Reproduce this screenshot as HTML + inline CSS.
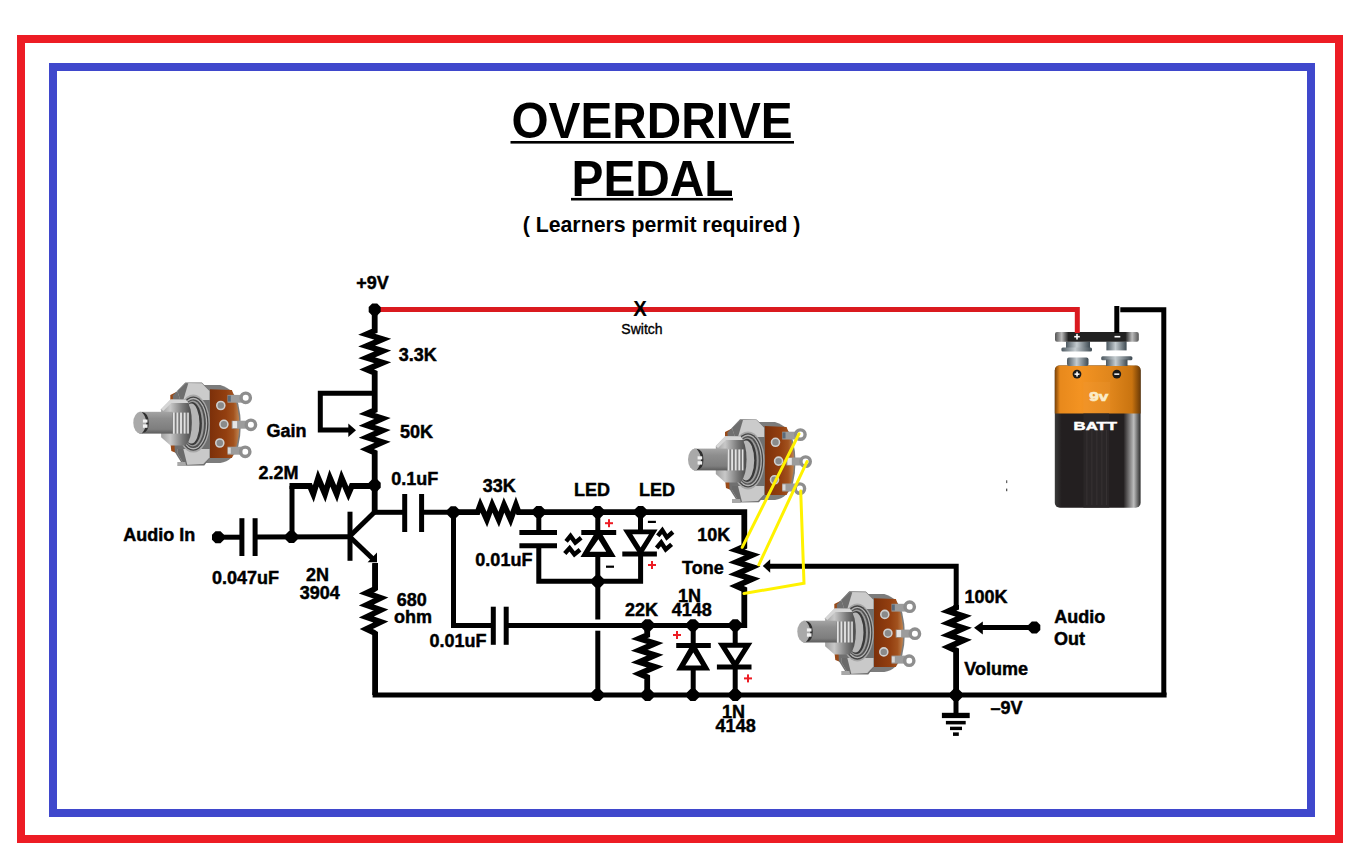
<!DOCTYPE html>
<html><head><meta charset="utf-8"><style>
html,body{margin:0;padding:0;background:#fff;overflow:hidden}
svg{display:block}
text{font-family:"Liberation Sans",sans-serif}
</style></head><body>
<svg width="1371" height="866" viewBox="0 0 1371 866">
<rect width="1371" height="866" fill="#fff"/>
<rect x="21" y="39" width="1318" height="800" fill="none" stroke="#ED1C24" stroke-width="8"/>
<rect x="53" y="67" width="1258" height="746" fill="none" stroke="#3F48CC" stroke-width="8"/>
<text transform="scale(0.958,1)" x="533.84" y="137.9" font-size="49.85" font-weight="bold">OVERDRIVE</text>
<rect x="510.5" y="141" width="283.5" height="2.6" fill="#000"/>
<text transform="scale(0.958,1)" x="596.56" y="195.95" font-size="49.93" font-weight="bold">PEDAL</text>
<rect x="571" y="197.9" width="162" height="2.6" fill="#000"/>
<text x="522.74" y="231.9" font-size="21.27" font-weight="bold">( Learners permit required )</text>
<defs>
<linearGradient id="potShaft" x1="0" y1="0" x2="0" y2="1">
 <stop offset="0" stop-color="#a4a4a4"/><stop offset="0.3" stop-color="#8e8e8e"/><stop offset="0.8" stop-color="#7e7e7e"/><stop offset="1" stop-color="#5c5c5c"/>
</linearGradient>
<linearGradient id="potWafer" x1="0" y1="0" x2="1" y2="0">
 <stop offset="0" stop-color="#7c300a"/><stop offset="0.55" stop-color="#933f10"/><stop offset="0.8" stop-color="#a2521e"/><stop offset="1" stop-color="#c08552"/>
</linearGradient>
<linearGradient id="potHex" x1="0" y1="0" x2="1" y2="0">
 <stop offset="0" stop-color="#707070"/><stop offset="0.5" stop-color="#b0b0b0"/><stop offset="1" stop-color="#6e6e6e"/>
</linearGradient>
<linearGradient id="potNut" x1="0" y1="0" x2="1" y2="0">
 <stop offset="0" stop-color="#a0a0a0"/><stop offset="0.3" stop-color="#c8c8c8"/><stop offset="0.7" stop-color="#7a7a7a"/><stop offset="1" stop-color="#4a4a4a"/>
</linearGradient>
<pattern id="potThread" x="0" y="0" width="3.6" height="30" patternUnits="userSpaceOnUse">
 <rect width="3.6" height="30" fill="#7c7c7c"/><rect x="0" width="1.8" height="30" fill="#e2e2e2"/>
</pattern>
<linearGradient id="batOr" x1="0" y1="0" x2="1" y2="0">
 <stop offset="0" stop-color="#7a4208"/><stop offset="0.06" stop-color="#e8891c"/><stop offset="0.3" stop-color="#f39322"/><stop offset="0.65" stop-color="#e0861c"/><stop offset="0.9" stop-color="#c97410"/><stop offset="1" stop-color="#6a3a06"/>
</linearGradient>
<linearGradient id="batBk" x1="0" y1="0" x2="1" y2="0">
 <stop offset="0" stop-color="#3a3a3a"/><stop offset="0.08" stop-color="#231f20"/><stop offset="0.8" stop-color="#231f20"/><stop offset="0.92" stop-color="#bdbdbd"/><stop offset="1" stop-color="#2a2a2a"/>
</linearGradient>
<linearGradient id="clip" x1="0" y1="0" x2="1" y2="0">
 <stop offset="0" stop-color="#555"/><stop offset="0.08" stop-color="#bbb"/><stop offset="0.16" stop-color="#222"/><stop offset="0.84" stop-color="#222"/><stop offset="0.92" stop-color="#bbb"/><stop offset="1" stop-color="#555"/>
</linearGradient>
<linearGradient id="steel" x1="0" y1="0" x2="1" y2="0">
 <stop offset="0" stop-color="#4c5860"/><stop offset="0.45" stop-color="#c4ccd0"/><stop offset="1" stop-color="#3e4a52"/>
</linearGradient>
</defs>

<g transform="translate(133.3,382.1)">
  <path d="M68,3 L87,3 Q101,7 105,22 Q110,43 105,64 Q100,79 87,81 L68,81 Z" fill="#7c7c7c"/>
  <path d="M76.6,7.2 L98.6,8 Q106.2,26 106,43.7 Q105.6,62 98.6,76 L76.6,76 Z" fill="url(#potWafer)"/>
  <path d="M37,13 L43,10 L43,21 L37,21 Z" fill="#9a4a18"/>
  <path d="M37,60 L43,60 L43,71 L38,69 Z" fill="#9a4a18"/>
  <path d="M39.5,13.5 L52,0.3 L68.5,0.5 L76.6,8.4 L76.6,76 L71,83.4 L50,83.6 L41.5,70 Z" fill="#707070"/>
  <path d="M44,9 L52.5,1 L68.5,1.2 L76.2,8.8 L76.2,18 L47,18 Z" fill="#cbcbcb"/>
  <path d="M44,9 L52.5,1 L55,1.2 L50,18 L47,18 Z" fill="#6e6e6e"/>
  <path d="M44,67 L76.2,67 L76.2,75.5 L70,82 L51,83 L44,71 Z" fill="#c9c9c9"/>
  <path d="M44,67 L50,67 L54,83 L51,83 L44,71 Z" fill="#6a6a6a"/>
  <ellipse cx="60" cy="41.5" rx="16.5" ry="29" fill="#a8a8a8"/>
  <ellipse cx="60" cy="41.5" rx="15.2" ry="27.2" fill="#454545"/>
  <ellipse cx="60" cy="41.5" rx="13.9" ry="25.8" fill="#b4b4b4"/>
  <ellipse cx="60" cy="41.5" rx="12.6" ry="24.4" fill="#505050"/>
  <ellipse cx="59.5" cy="41.5" rx="11.2" ry="23" fill="#9a9a9a"/>
  <ellipse cx="59" cy="41.5" rx="9.6" ry="21.6" fill="#3a3a3a"/>
  <ellipse cx="58" cy="41.5" rx="8.2" ry="20" fill="#b6b6b6"/>
  <path d="M27.8,27.2 L37.2,17.4 L52.5,17.4 Q58.5,24 58.5,40.4 Q58.5,57 52.5,63.5 L37.2,63.5 L27.8,55.2 Z" fill="url(#potNut)"/>
  <path d="M27.8,27.2 L37.2,17.4 L52.5,17.4 Q54,19 55,21 L38,21 L30,29 Z" fill="#d6d6d6"/>
  <rect x="38.5" y="30.5" width="17" height="21" fill="url(#potThread)"/>
  <rect x="6" y="29.7" width="33.2" height="21.8" fill="url(#potShaft)"/>
  <ellipse cx="7.2" cy="40.6" rx="7.2" ry="10.9" fill="#a9a9a9"/>
  <path d="M8.5,29.9 Q15.6,31 15.4,40.6 Q15.6,50.4 8.5,51.3 Q13,46 13,40.6 Q13,35 8.5,29.9 Z" fill="#2e2e2e"/>
  <rect x="9.6" y="37.4" width="4.6" height="3.1" fill="#f2f2f2"/>
  <rect x="9.6" y="42.3" width="4.6" height="3.4" fill="#f2f2f2"/>
  <circle cx="87.5" cy="23.4" r="4" fill="#8a8a8a" stroke="#cfcfcf" stroke-width="1.6"/>
  <circle cx="90.6" cy="42.2" r="4" fill="#8a8a8a" stroke="#cfcfcf" stroke-width="1.6"/>
  <circle cx="86.5" cy="60.9" r="4" fill="#8a8a8a" stroke="#cfcfcf" stroke-width="1.6"/>
  <path d="M94.2,12.8 L109,12.8 L109,20.6 L94.2,20.6 Z" fill="#9c9c9c"/>
  <path d="M98.4,38.6 L114,38.6 L114,46.6 L98.4,46.6 Z" fill="#9c9c9c"/>
  <path d="M94.2,64.6 L109,64.6 L109,72.6 L94.2,72.6 Z" fill="#9c9c9c"/>
  <rect x="99.4" y="39" width="4.4" height="7" fill="#e6e6e6"/>
  <rect x="94.5" y="13.5" width="3" height="6" fill="#5a6a7a"/>
  <rect x="94.5" y="65.5" width="3" height="6" fill="#d8d8d8"/>
  <circle cx="112.4" cy="15.7" r="4.7" fill="none" stroke="#8e8e8e" stroke-width="3.4"/>
  <circle cx="117.6" cy="42.7" r="4.7" fill="none" stroke="#8e8e8e" stroke-width="3.4"/>
  <circle cx="111.9" cy="69.7" r="4.7" fill="none" stroke="#8e8e8e" stroke-width="3.4"/>
  <path d="M44,80 L52,80 L53,84 L44,84 Z" fill="#a8a8a8"/>
</g>

<g transform="translate(688,418.9)">
  <path d="M68,3 L87,3 Q101,7 105,22 Q110,43 105,64 Q100,79 87,81 L68,81 Z" fill="#7c7c7c"/>
  <path d="M76.6,7.2 L98.6,8 Q106.2,26 106,43.7 Q105.6,62 98.6,76 L76.6,76 Z" fill="url(#potWafer)"/>
  <path d="M37,13 L43,10 L43,21 L37,21 Z" fill="#9a4a18"/>
  <path d="M37,60 L43,60 L43,71 L38,69 Z" fill="#9a4a18"/>
  <path d="M39.5,13.5 L52,0.3 L68.5,0.5 L76.6,8.4 L76.6,76 L71,83.4 L50,83.6 L41.5,70 Z" fill="#707070"/>
  <path d="M44,9 L52.5,1 L68.5,1.2 L76.2,8.8 L76.2,18 L47,18 Z" fill="#cbcbcb"/>
  <path d="M44,9 L52.5,1 L55,1.2 L50,18 L47,18 Z" fill="#6e6e6e"/>
  <path d="M44,67 L76.2,67 L76.2,75.5 L70,82 L51,83 L44,71 Z" fill="#c9c9c9"/>
  <path d="M44,67 L50,67 L54,83 L51,83 L44,71 Z" fill="#6a6a6a"/>
  <ellipse cx="60" cy="41.5" rx="16.5" ry="29" fill="#a8a8a8"/>
  <ellipse cx="60" cy="41.5" rx="15.2" ry="27.2" fill="#454545"/>
  <ellipse cx="60" cy="41.5" rx="13.9" ry="25.8" fill="#b4b4b4"/>
  <ellipse cx="60" cy="41.5" rx="12.6" ry="24.4" fill="#505050"/>
  <ellipse cx="59.5" cy="41.5" rx="11.2" ry="23" fill="#9a9a9a"/>
  <ellipse cx="59" cy="41.5" rx="9.6" ry="21.6" fill="#3a3a3a"/>
  <ellipse cx="58" cy="41.5" rx="8.2" ry="20" fill="#b6b6b6"/>
  <path d="M27.8,27.2 L37.2,17.4 L52.5,17.4 Q58.5,24 58.5,40.4 Q58.5,57 52.5,63.5 L37.2,63.5 L27.8,55.2 Z" fill="url(#potNut)"/>
  <path d="M27.8,27.2 L37.2,17.4 L52.5,17.4 Q54,19 55,21 L38,21 L30,29 Z" fill="#d6d6d6"/>
  <rect x="38.5" y="30.5" width="17" height="21" fill="url(#potThread)"/>
  <rect x="6" y="29.7" width="33.2" height="21.8" fill="url(#potShaft)"/>
  <ellipse cx="7.2" cy="40.6" rx="7.2" ry="10.9" fill="#a9a9a9"/>
  <path d="M8.5,29.9 Q15.6,31 15.4,40.6 Q15.6,50.4 8.5,51.3 Q13,46 13,40.6 Q13,35 8.5,29.9 Z" fill="#2e2e2e"/>
  <rect x="9.6" y="37.4" width="4.6" height="3.1" fill="#f2f2f2"/>
  <rect x="9.6" y="42.3" width="4.6" height="3.4" fill="#f2f2f2"/>
  <circle cx="87.5" cy="23.4" r="4" fill="#8a8a8a" stroke="#cfcfcf" stroke-width="1.6"/>
  <circle cx="90.6" cy="42.2" r="4" fill="#8a8a8a" stroke="#cfcfcf" stroke-width="1.6"/>
  <circle cx="86.5" cy="60.9" r="4" fill="#8a8a8a" stroke="#cfcfcf" stroke-width="1.6"/>
  <path d="M94.2,12.8 L109,12.8 L109,20.6 L94.2,20.6 Z" fill="#9c9c9c"/>
  <path d="M98.4,38.6 L114,38.6 L114,46.6 L98.4,46.6 Z" fill="#9c9c9c"/>
  <path d="M94.2,64.6 L109,64.6 L109,72.6 L94.2,72.6 Z" fill="#9c9c9c"/>
  <rect x="99.4" y="39" width="4.4" height="7" fill="#e6e6e6"/>
  <rect x="94.5" y="13.5" width="3" height="6" fill="#5a6a7a"/>
  <rect x="94.5" y="65.5" width="3" height="6" fill="#d8d8d8"/>
  <circle cx="112.4" cy="15.7" r="4.7" fill="none" stroke="#8e8e8e" stroke-width="3.4"/>
  <circle cx="117.6" cy="42.7" r="4.7" fill="none" stroke="#8e8e8e" stroke-width="3.4"/>
  <circle cx="111.9" cy="69.7" r="4.7" fill="none" stroke="#8e8e8e" stroke-width="3.4"/>
  <path d="M44,80 L52,80 L53,84 L44,84 Z" fill="#a8a8a8"/>
</g>

<g transform="translate(797.3,591)">
  <path d="M68,3 L87,3 Q101,7 105,22 Q110,43 105,64 Q100,79 87,81 L68,81 Z" fill="#7c7c7c"/>
  <path d="M76.6,7.2 L98.6,8 Q106.2,26 106,43.7 Q105.6,62 98.6,76 L76.6,76 Z" fill="url(#potWafer)"/>
  <path d="M37,13 L43,10 L43,21 L37,21 Z" fill="#9a4a18"/>
  <path d="M37,60 L43,60 L43,71 L38,69 Z" fill="#9a4a18"/>
  <path d="M39.5,13.5 L52,0.3 L68.5,0.5 L76.6,8.4 L76.6,76 L71,83.4 L50,83.6 L41.5,70 Z" fill="#707070"/>
  <path d="M44,9 L52.5,1 L68.5,1.2 L76.2,8.8 L76.2,18 L47,18 Z" fill="#cbcbcb"/>
  <path d="M44,9 L52.5,1 L55,1.2 L50,18 L47,18 Z" fill="#6e6e6e"/>
  <path d="M44,67 L76.2,67 L76.2,75.5 L70,82 L51,83 L44,71 Z" fill="#c9c9c9"/>
  <path d="M44,67 L50,67 L54,83 L51,83 L44,71 Z" fill="#6a6a6a"/>
  <ellipse cx="60" cy="41.5" rx="16.5" ry="29" fill="#a8a8a8"/>
  <ellipse cx="60" cy="41.5" rx="15.2" ry="27.2" fill="#454545"/>
  <ellipse cx="60" cy="41.5" rx="13.9" ry="25.8" fill="#b4b4b4"/>
  <ellipse cx="60" cy="41.5" rx="12.6" ry="24.4" fill="#505050"/>
  <ellipse cx="59.5" cy="41.5" rx="11.2" ry="23" fill="#9a9a9a"/>
  <ellipse cx="59" cy="41.5" rx="9.6" ry="21.6" fill="#3a3a3a"/>
  <ellipse cx="58" cy="41.5" rx="8.2" ry="20" fill="#b6b6b6"/>
  <path d="M27.8,27.2 L37.2,17.4 L52.5,17.4 Q58.5,24 58.5,40.4 Q58.5,57 52.5,63.5 L37.2,63.5 L27.8,55.2 Z" fill="url(#potNut)"/>
  <path d="M27.8,27.2 L37.2,17.4 L52.5,17.4 Q54,19 55,21 L38,21 L30,29 Z" fill="#d6d6d6"/>
  <rect x="38.5" y="30.5" width="17" height="21" fill="url(#potThread)"/>
  <rect x="6" y="29.7" width="33.2" height="21.8" fill="url(#potShaft)"/>
  <ellipse cx="7.2" cy="40.6" rx="7.2" ry="10.9" fill="#a9a9a9"/>
  <path d="M8.5,29.9 Q15.6,31 15.4,40.6 Q15.6,50.4 8.5,51.3 Q13,46 13,40.6 Q13,35 8.5,29.9 Z" fill="#2e2e2e"/>
  <rect x="9.6" y="37.4" width="4.6" height="3.1" fill="#f2f2f2"/>
  <rect x="9.6" y="42.3" width="4.6" height="3.4" fill="#f2f2f2"/>
  <circle cx="87.5" cy="23.4" r="4" fill="#8a8a8a" stroke="#cfcfcf" stroke-width="1.6"/>
  <circle cx="90.6" cy="42.2" r="4" fill="#8a8a8a" stroke="#cfcfcf" stroke-width="1.6"/>
  <circle cx="86.5" cy="60.9" r="4" fill="#8a8a8a" stroke="#cfcfcf" stroke-width="1.6"/>
  <path d="M94.2,12.8 L109,12.8 L109,20.6 L94.2,20.6 Z" fill="#9c9c9c"/>
  <path d="M98.4,38.6 L114,38.6 L114,46.6 L98.4,46.6 Z" fill="#9c9c9c"/>
  <path d="M94.2,64.6 L109,64.6 L109,72.6 L94.2,72.6 Z" fill="#9c9c9c"/>
  <rect x="99.4" y="39" width="4.4" height="7" fill="#e6e6e6"/>
  <rect x="94.5" y="13.5" width="3" height="6" fill="#5a6a7a"/>
  <rect x="94.5" y="65.5" width="3" height="6" fill="#d8d8d8"/>
  <circle cx="112.4" cy="15.7" r="4.7" fill="none" stroke="#8e8e8e" stroke-width="3.4"/>
  <circle cx="117.6" cy="42.7" r="4.7" fill="none" stroke="#8e8e8e" stroke-width="3.4"/>
  <circle cx="111.9" cy="69.7" r="4.7" fill="none" stroke="#8e8e8e" stroke-width="3.4"/>
  <path d="M44,80 L52,80 L53,84 L44,84 Z" fill="#a8a8a8"/>
</g>
<rect x="1054.8" y="365.5" width="85.8" height="142.2" rx="5" fill="url(#batBk)"/>
<path d="M1059.8,365.5 L1135.6,365.5 Q1140.6,365.5 1140.6,370.5 L1140.6,413.5 L1054.8,413.5 L1054.8,370.5 Q1054.8,365.5 1059.8,365.5 Z" fill="url(#batOr)"/>
<rect x="1083.4" y="382" width="26.8" height="31.5" fill="#f4a040" opacity="0.18"/>
<rect x="1083.4" y="413.5" width="25.8" height="94" fill="#2a2627"/>
<rect x="1086.5" y="430" width="0.8" height="75" fill="#3a3536"/>
<rect x="1091.5" y="430" width="0.8" height="75" fill="#3a3536"/>
<rect x="1096.5" y="430" width="0.8" height="75" fill="#3a3536"/>
<rect x="1101.5" y="430" width="0.8" height="75" fill="#3a3536"/>
<rect x="1106" y="430" width="0.8" height="75" fill="#3a3536"/>
<text x="1098.7" y="401.3" font-size="13.5" font-weight="bold" fill="#fbecc8" stroke="#fbecc8" stroke-width="0.7" text-anchor="middle" textLength="19" lengthAdjust="spacingAndGlyphs">9v</text>
<text x="1073.6" y="430.1" font-size="11.8" font-weight="bold" fill="#fff" stroke="#fff" stroke-width="0.5" textLength="43.4" lengthAdjust="spacingAndGlyphs">BATT</text>
<circle cx="1077" cy="374.1" r="4.4" fill="#1a1a1a"/>
<rect x="1074.5" y="373.4" width="5" height="1.5" fill="#fff"/><rect x="1076.3" y="371.6" width="1.5" height="5" fill="#fff"/>
<circle cx="1116.8" cy="374.1" r="4.4" fill="#1a1a1a"/>
<rect x="1114.3" y="373.4" width="5" height="1.5" fill="#fff"/>
<rect x="1067" y="357.4" width="21.5" height="8.6" rx="2" fill="url(#steel)"/>
<rect x="1101.2" y="356.2" width="31.2" height="4" rx="1.5" fill="url(#steel)"/>
<rect x="1106" y="359.5" width="21.5" height="6.5" fill="url(#steel)"/>
<rect x="1066" y="341.5" width="24" height="7" fill="url(#steel)"/>
<rect x="1061.4" y="347.5" width="30.6" height="4.1" rx="1.5" fill="url(#steel)"/>
<rect x="1106.4" y="341.5" width="20.2" height="8.9" fill="url(#steel)"/>
<rect x="1055" y="332" width="83.8" height="9.8" rx="2" fill="url(#clip)"/>
<rect x="1074.2" y="335.9" width="5.6" height="1.6" fill="#fff"/><rect x="1076.2" y="333.9" width="1.6" height="5.6" fill="#fff"/>
<rect x="1114.5" y="335.9" width="5.8" height="1.6" fill="#fff"/>
<polyline points="374.7,309.5 1077.3,309.5 1077.3,333" fill="none" stroke="#DA1A1F" stroke-width="5" stroke-linecap="butt" stroke-linejoin="miter" stroke-miterlimit="10"/>
<line x1="1116.8" y1="306" x2="1116.8" y2="333" stroke="#000" stroke-width="5" stroke-linecap="butt"/>
<polyline points="1120.3,309.7 1163.8,309.7 1163.8,695" fill="none" stroke="#000" stroke-width="5" stroke-linecap="butt" stroke-linejoin="miter" stroke-miterlimit="10"/>
<polyline points="374.7,309.5 374.7,330.79 366.65,334.2 382.75,339.14 366.65,345.97 382.75,350.91 366.65,357.74 382.75,362.68 366.65,369.51 374.7,372.92 374.7,410.05 366.87,413.5 382.53,418.5 366.87,425.4 382.53,430.4 366.87,437.3 382.53,442.3 366.87,449.2 374.7,452.65 374.7,512.3" fill="none" stroke="#000" stroke-width="5.8" stroke-linecap="butt" stroke-linejoin="miter" stroke-miterlimit="10"/>
<polygon points="380.71,311.99 377.19,315.51 372.21,315.51 368.69,311.99 368.69,307.01 372.21,303.49 377.19,303.49 380.71,307.01" fill="#000"/>
<polyline points="374.7,393.3 320.3,393.3 320.3,430.1 350,430.1" fill="none" stroke="#000" stroke-width="5" stroke-linecap="butt" stroke-linejoin="miter" stroke-miterlimit="10"/>
<polygon points="348.3,423.6 356,430.3 348.3,437" fill="#000"/>
<polygon points="380.71,487.79 377.19,491.31 372.21,491.31 368.69,487.79 368.69,482.81 372.21,479.29 377.19,479.29 380.71,482.81" fill="#000"/>
<polyline points="292,537 292,486" fill="none" stroke="#000" stroke-width="5" stroke-linecap="butt" stroke-linejoin="miter" stroke-miterlimit="10"/>
<polyline points="289.5,486 309.91,486 313.3,493.97 318.21,478.03 325,493.97 329.91,478.03 336.7,493.97 341.61,478.03 348.4,493.97 351.79,486 374.7,486" fill="none" stroke="#000" stroke-width="5.8" stroke-linecap="butt" stroke-linejoin="miter" stroke-miterlimit="10"/>
<polygon points="224.01,539.69 220.49,543.21 215.51,543.21 211.99,539.69 211.99,534.71 215.51,531.19 220.49,531.19 224.01,534.71" fill="#000"/>
<line x1="218" y1="537.2" x2="241.9" y2="537.2" stroke="#000" stroke-width="5" stroke-linecap="butt"/>
<line x1="241.9" y1="518.2" x2="241.9" y2="556" stroke="#000" stroke-width="5" stroke-linecap="butt"/>
<line x1="255.1" y1="518.2" x2="255.1" y2="556" stroke="#000" stroke-width="5" stroke-linecap="butt"/>
<line x1="255.1" y1="537.1" x2="350" y2="536.8" stroke="#000" stroke-width="5" stroke-linecap="butt"/>
<polygon points="297.51,539.49 293.99,543.01 289.01,543.01 285.49,539.49 285.49,534.51 289.01,530.99 293.99,530.99 297.51,534.51" fill="#000"/>
<line x1="350" y1="511.7" x2="350" y2="560.8" stroke="#000" stroke-width="5" stroke-linecap="butt"/>
<line x1="350.5" y1="535.5" x2="376.2" y2="510.5" stroke="#000" stroke-width="5" stroke-linecap="butt"/>
<line x1="350.5" y1="537.5" x2="373" y2="559" stroke="#000" stroke-width="5" stroke-linecap="butt"/>
<polygon points="377,552.5 377,562.3 367.6,562.3" fill="#000"/>
<polyline points="375,564 375,590.05" fill="none" stroke="#000" stroke-width="5" stroke-linecap="butt" stroke-linejoin="miter" stroke-miterlimit="10"/>
<polyline points="375.1,563 375.1,588.52 373.6,589.52 366.37,593 380.83,598.04 366.37,605 380.83,610.04 366.37,617 380.83,622.04 366.37,629 373.6,632.48 375.1,633.48 375.1,695" fill="none" stroke="#000" stroke-width="5.8" stroke-linecap="butt" stroke-linejoin="miter" stroke-miterlimit="10"/>
<line x1="372.6" y1="695" x2="1166.6" y2="695" stroke="#000" stroke-width="5" stroke-linecap="butt"/>
<line x1="374.7" y1="512.3" x2="404.7" y2="512.3" stroke="#000" stroke-width="5" stroke-linecap="butt"/>
<line x1="404.7" y1="494" x2="404.7" y2="532" stroke="#000" stroke-width="5" stroke-linecap="butt"/>
<line x1="421.6" y1="494" x2="421.6" y2="532" stroke="#000" stroke-width="5" stroke-linecap="butt"/>
<line x1="421.6" y1="512.3" x2="453.3" y2="512.3" stroke="#000" stroke-width="5" stroke-linecap="butt"/>
<polygon points="459.31,514.69 455.79,518.21 450.81,518.21 447.29,514.69 447.29,509.71 450.81,506.19 455.79,506.19 459.31,509.71" fill="#000"/>
<polyline points="453.3,512.2 477.63,512.2 480.3,504.92 486.83,519.48 492.17,504.92 498.7,519.48 504.04,504.92 510.57,519.48 515.91,504.92 518.58,512.2 744.3,512.2 744.3,512.2 744.3,546.52 736.36,550 752.24,555.04 736.36,562 752.24,567.04 736.36,574 752.24,579.04 736.36,586 744.3,589.48 744.3,628" fill="none" stroke="#000" stroke-width="5.8" stroke-linecap="butt" stroke-linejoin="miter" stroke-miterlimit="10"/>
<polygon points="544.81,514.49 541.29,518.01 536.31,518.01 532.79,514.49 532.79,509.51 536.31,505.99 541.29,505.99 544.81,509.51" fill="#000"/>
<line x1="538.8" y1="512" x2="538.8" y2="532.5" stroke="#000" stroke-width="5" stroke-linecap="butt"/>
<line x1="519.4" y1="532.5" x2="557" y2="532.5" stroke="#000" stroke-width="5" stroke-linecap="butt"/>
<line x1="519.4" y1="545.7" x2="557" y2="545.7" stroke="#000" stroke-width="5" stroke-linecap="butt"/>
<polyline points="538.8,545.7 538.8,581.2 640.6,581.2 640.6,554" fill="none" stroke="#000" stroke-width="5" stroke-linecap="butt" stroke-linejoin="miter" stroke-miterlimit="10"/>
<polygon points="603.81,514.49 600.29,518.01 595.31,518.01 591.79,514.49 591.79,509.51 595.31,505.99 600.29,505.99 603.81,509.51" fill="#000"/>
<line x1="597.8" y1="512" x2="597.8" y2="532" stroke="#000" stroke-width="5" stroke-linecap="butt"/>
<line x1="581.3" y1="532.5" x2="616.2" y2="532.5" stroke="#000" stroke-width="5" stroke-linecap="butt"/>
<path d="M580.5,556.9 L615.8,556.9 L598.2,527.5 Z M589.6,551.7 L606.2,551.7 L598.4,539.2 Z" fill="#000" fill-rule="evenodd"/>
<line x1="597.8" y1="556" x2="597.8" y2="619.5" stroke="#000" stroke-width="5" stroke-linecap="butt"/>
<line x1="597.8" y1="630.7" x2="597.8" y2="695" stroke="#000" stroke-width="5" stroke-linecap="butt"/>
<polygon points="603.81,584.09 600.29,587.61 595.31,587.61 591.79,584.09 591.79,579.11 595.31,575.59 600.29,575.59 603.81,579.11" fill="#000"/>
<polygon points="646.61,514.49 643.09,518.01 638.11,518.01 634.59,514.49 634.59,509.51 638.11,505.99 643.09,505.99 646.61,509.51" fill="#000"/>
<line x1="640.5" y1="512" x2="640.5" y2="530" stroke="#000" stroke-width="5" stroke-linecap="butt"/>
<path d="M623,529.4 L657.6,529.4 L640.5,557 Z M632.3,534.3 L649,534.3 L640.6,547.4 Z" fill="#000" fill-rule="evenodd"/>
<line x1="622.3" y1="553.9" x2="656.9" y2="553.9" stroke="#000" stroke-width="5" stroke-linecap="butt"/>
<polyline points="566.1,541.3 570.5,535.9 575.3,542.6 581.2,537.8" fill="none" stroke="#000" stroke-width="4.4" stroke-linecap="butt" stroke-linejoin="miter" stroke-miterlimit="10"/>
<polyline points="564.8,553.5 569.6,548.1 574.4,554.4 580,549.8" fill="none" stroke="#000" stroke-width="4.4" stroke-linecap="butt" stroke-linejoin="miter" stroke-miterlimit="10"/>
<polyline points="657.8,535.8 662.3,530.3 666.8,537.4 672.9,532" fill="none" stroke="#000" stroke-width="4.4" stroke-linecap="butt" stroke-linejoin="miter" stroke-miterlimit="10"/>
<polyline points="656.6,548 661.2,542.5 665.7,549.5 671.6,544.3" fill="none" stroke="#000" stroke-width="4.4" stroke-linecap="butt" stroke-linejoin="miter" stroke-miterlimit="10"/>
<rect x="605" y="522.2" width="8" height="2" fill="#ED1C24"/>
<rect x="608" y="519.2" width="2" height="8" fill="#ED1C24"/>
<rect x="606" y="565.6" width="8" height="2.2" fill="#000"/>
<rect x="647.9" y="520.8" width="8" height="2.2" fill="#000"/>
<rect x="648" y="564" width="8" height="2" fill="#ED1C24"/>
<rect x="651" y="561" width="2" height="8" fill="#ED1C24"/>
<polyline points="956.2,605.2 956.2,566.3 769,566.3" fill="none" stroke="#000" stroke-width="5" stroke-linecap="butt" stroke-linejoin="miter" stroke-miterlimit="10"/>
<polygon points="770.2,559.2 762.8,566 770.2,572.8" fill="#000"/>
<polyline points="956.1,605 956.1,607.74 948.34,611.2 963.86,616.21 948.34,623.14 963.86,628.15 948.34,635.08 963.86,640.09 948.34,647.02 956.1,650.48 956.1,695" fill="none" stroke="#000" stroke-width="5.8" stroke-linecap="butt" stroke-linejoin="miter" stroke-miterlimit="10"/>
<line x1="1034.3" y1="627.6" x2="982" y2="627.6" stroke="#000" stroke-width="5" stroke-linecap="butt"/>
<polygon points="982.8,621.4 974,627.7 982.8,634.4" fill="#000"/>
<polygon points="1040.31,629.89 1036.79,633.41 1031.81,633.41 1028.29,629.89 1028.29,624.91 1031.81,621.39 1036.79,621.39 1040.31,624.91" fill="#000"/>
<polygon points="962.01,697.49 958.49,701.01 953.51,701.01 949.99,697.49 949.99,692.51 953.51,688.99 958.49,688.99 962.01,692.51" fill="#000"/>
<line x1="956" y1="695" x2="956" y2="713" stroke="#000" stroke-width="5" stroke-linecap="butt"/>
<rect x="941.9" y="712.8" width="27.8" height="5.3" fill="#000"/>
<rect x="945.9" y="720.9" width="19.8" height="3.5" fill="#000"/>
<rect x="950" y="726.7" width="12" height="3.4" fill="#000"/>
<rect x="953" y="732.4" width="5.8" height="3.5" fill="#000"/>
<polyline points="453.5,512.2 453.5,625.6 493.3,625.6" fill="none" stroke="#000" stroke-width="5" stroke-linecap="butt" stroke-linejoin="miter" stroke-miterlimit="10"/>
<line x1="493.3" y1="606.7" x2="493.3" y2="644.8" stroke="#000" stroke-width="5" stroke-linecap="butt"/>
<line x1="506.2" y1="606.7" x2="506.2" y2="644.8" stroke="#000" stroke-width="5" stroke-linecap="butt"/>
<line x1="506.2" y1="625.5" x2="746.8" y2="625.5" stroke="#000" stroke-width="5" stroke-linecap="butt"/>
<polygon points="653.61,627.79 650.09,631.31 645.11,631.31 641.59,627.79 641.59,622.81 645.11,619.29 650.09,619.29 653.61,622.81" fill="#000"/>
<polygon points="698.91,627.79 695.39,631.31 690.41,631.31 686.89,627.79 686.89,622.81 690.41,619.29 695.39,619.29 698.91,622.81" fill="#000"/>
<polygon points="741.21,627.79 737.69,631.31 732.71,631.31 729.19,627.79 729.19,622.81 732.71,619.29 737.69,619.29 741.21,622.81" fill="#000"/>
<polyline points="647.2,625.8 647.2,635.09 639.26,638.5 655.14,643.43 639.26,650.25 655.14,655.18 639.26,662 655.14,666.93 639.26,673.75 647.2,677.16 647.2,695" fill="none" stroke="#000" stroke-width="5.8" stroke-linecap="butt" stroke-linejoin="miter" stroke-miterlimit="10"/>
<line x1="693.2" y1="625.8" x2="693.2" y2="644" stroke="#000" stroke-width="5" stroke-linecap="butt"/>
<line x1="676.2" y1="645.4" x2="710.8" y2="645.4" stroke="#000" stroke-width="5" stroke-linecap="butt"/>
<path d="M676.2,670.6 L710.2,670.6 L693.2,641 Z M685.3,665.4 L701.3,665.4 L693.3,652.5 Z" fill="#000" fill-rule="evenodd"/>
<line x1="693.2" y1="669" x2="693.2" y2="695" stroke="#000" stroke-width="5" stroke-linecap="butt"/>
<line x1="735.2" y1="625.8" x2="735.2" y2="644" stroke="#000" stroke-width="5" stroke-linecap="butt"/>
<path d="M717.7,642.8 L752.4,642.8 L735.1,670 Z M727,647.7 L743.2,647.7 L735.1,660.6 Z" fill="#000" fill-rule="evenodd"/>
<line x1="716.9" y1="667.1" x2="751.5" y2="667.1" stroke="#000" stroke-width="5" stroke-linecap="butt"/>
<line x1="735.2" y1="667" x2="735.2" y2="695" stroke="#000" stroke-width="5" stroke-linecap="butt"/>
<polygon points="603.31,697.49 599.79,701.01 594.81,701.01 591.29,697.49 591.29,692.51 594.81,688.99 599.79,688.99 603.31,692.51" fill="#000"/>
<polygon points="653.61,697.49 650.09,701.01 645.11,701.01 641.59,697.49 641.59,692.51 645.11,688.99 650.09,688.99 653.61,692.51" fill="#000"/>
<polygon points="698.91,697.49 695.39,701.01 690.41,701.01 686.89,697.49 686.89,692.51 690.41,688.99 695.39,688.99 698.91,692.51" fill="#000"/>
<polygon points="741.21,697.49 737.69,701.01 732.71,701.01 729.19,697.49 729.19,692.51 732.71,688.99 737.69,688.99 741.21,692.51" fill="#000"/>
<rect x="673" y="634" width="8" height="2" fill="#ED1C24"/>
<rect x="676" y="631" width="2" height="8" fill="#ED1C24"/>
<rect x="744" y="677.4" width="8" height="2" fill="#ED1C24"/>
<rect x="747" y="674.4" width="2" height="8" fill="#ED1C24"/>
<rect x="1006" y="480.3" width="1.3" height="2.8" fill="#666"/><rect x="1006" y="488.6" width="1.3" height="2.6" fill="#555"/>
<polyline points="742.2,547.3 799,433.9" fill="none" stroke="#FFF200" stroke-width="3" stroke-linecap="round" stroke-linejoin="miter" stroke-miterlimit="10"/>
<polyline points="758.8,564.8 807,461.6" fill="none" stroke="#FFF200" stroke-width="3" stroke-linecap="round" stroke-linejoin="miter" stroke-miterlimit="10"/>
<polyline points="744,593.5 804,583.3 800.7,491" fill="none" stroke="#FFF200" stroke-width="3" stroke-linecap="round" stroke-linejoin="miter" stroke-miterlimit="10"/>
<text x="356.17" y="289.42" font-size="18" font-weight="bold" fill="#000" stroke="#000" stroke-width="0.45">+9V</text>
<text x="398.67" y="361.2" font-size="18" font-weight="bold" fill="#000" stroke="#000" stroke-width="0.45">3.3K</text>
<text x="266.44" y="436.62" font-size="18" font-weight="bold" fill="#000" stroke="#000" stroke-width="0.45">Gain</text>
<text x="400" y="438.02" font-size="18" font-weight="bold" fill="#000" stroke="#000" stroke-width="0.45">50K</text>
<text x="258.58" y="478.7" font-size="18" font-weight="bold" fill="#000" stroke="#000" stroke-width="0.45">2.2M</text>
<text x="391.17" y="484.62" font-size="18" font-weight="bold" fill="#000" stroke="#000" stroke-width="0.45">0.1uF</text>
<text x="123.19" y="540.62" font-size="18" font-weight="bold" fill="#000" stroke="#000" stroke-width="0.45">Audio In</text>
<text x="212.01" y="583.52" font-size="18" font-weight="bold" fill="#000" stroke="#000" stroke-width="0.45">0.047uF</text>
<text x="305.94" y="580.8" font-size="18" font-weight="bold" fill="#000" stroke="#000" stroke-width="0.45">2N</text>
<text x="299.67" y="599.2" font-size="18" font-weight="bold" fill="#000" stroke="#000" stroke-width="0.45">3904</text>
<text x="396.67" y="606.12" font-size="18" font-weight="bold" fill="#000" stroke="#000" stroke-width="0.45">680</text>
<text x="394.11" y="623.32" font-size="18" font-weight="bold" fill="#000" stroke="#000" stroke-width="0.45">ohm</text>
<text x="429.56" y="647.32" font-size="18" font-weight="bold" fill="#000" stroke="#000" stroke-width="0.45">0.01uF</text>
<text x="482.77" y="492.4" font-size="18" font-weight="bold" fill="#000" stroke="#000" stroke-width="0.45">33K</text>
<text x="475.36" y="566.32" font-size="18" font-weight="bold" fill="#000" stroke="#000" stroke-width="0.45">0.01uF</text>
<text x="573.93" y="496.4" font-size="18" font-weight="bold" fill="#000" stroke="#000" stroke-width="0.45">LED</text>
<text x="638.98" y="496.4" font-size="18" font-weight="bold" fill="#000" stroke="#000" stroke-width="0.45">LED</text>
<text x="697.31" y="541.02" font-size="18" font-weight="bold" fill="#000" stroke="#000" stroke-width="0.45">10K</text>
<text x="682.11" y="574.12" font-size="18" font-weight="bold" fill="#000" stroke="#000" stroke-width="0.45">Tone</text>
<text x="677.93" y="601.7" font-size="18" font-weight="bold" fill="#000" stroke="#000" stroke-width="0.45">1N</text>
<text x="671.72" y="616.22" font-size="18" font-weight="bold" fill="#000" stroke="#000" stroke-width="0.45">4148</text>
<text x="625.01" y="616.4" font-size="18" font-weight="bold" fill="#000" stroke="#000" stroke-width="0.45">22K</text>
<text x="721.88" y="717.7" font-size="18" font-weight="bold" fill="#000" stroke="#000" stroke-width="0.45">1N</text>
<text x="715.62" y="732.12" font-size="18" font-weight="bold" fill="#000" stroke="#000" stroke-width="0.45">4148</text>
<text x="964.5" y="602.62" font-size="18" font-weight="bold" fill="#000" stroke="#000" stroke-width="0.45">100K</text>
<text x="1054.18" y="623.32" font-size="18" font-weight="bold" fill="#000" stroke="#000" stroke-width="0.45">Audio</text>
<text x="1054" y="645.32" font-size="18" font-weight="bold" fill="#000" stroke="#000" stroke-width="0.45">Out</text>
<text x="964.29" y="675.32" font-size="18" font-weight="bold" fill="#000" stroke="#000" stroke-width="0.45">Volume</text>
<text x="990.38" y="714.12" font-size="18" font-weight="bold" fill="#000" stroke="#000" stroke-width="0.45">–9V</text>
<text x="632.83" y="316.5" font-size="21.5" font-weight="bold" fill="#000" transform="translate(640,0) scale(0.95,1) translate(-640,0)">X</text>
<text x="621.37" y="333.56" font-size="14" font-weight="normal" fill="#000" stroke="#000" stroke-width="0.35">Switch</text>
</svg></body></html>
